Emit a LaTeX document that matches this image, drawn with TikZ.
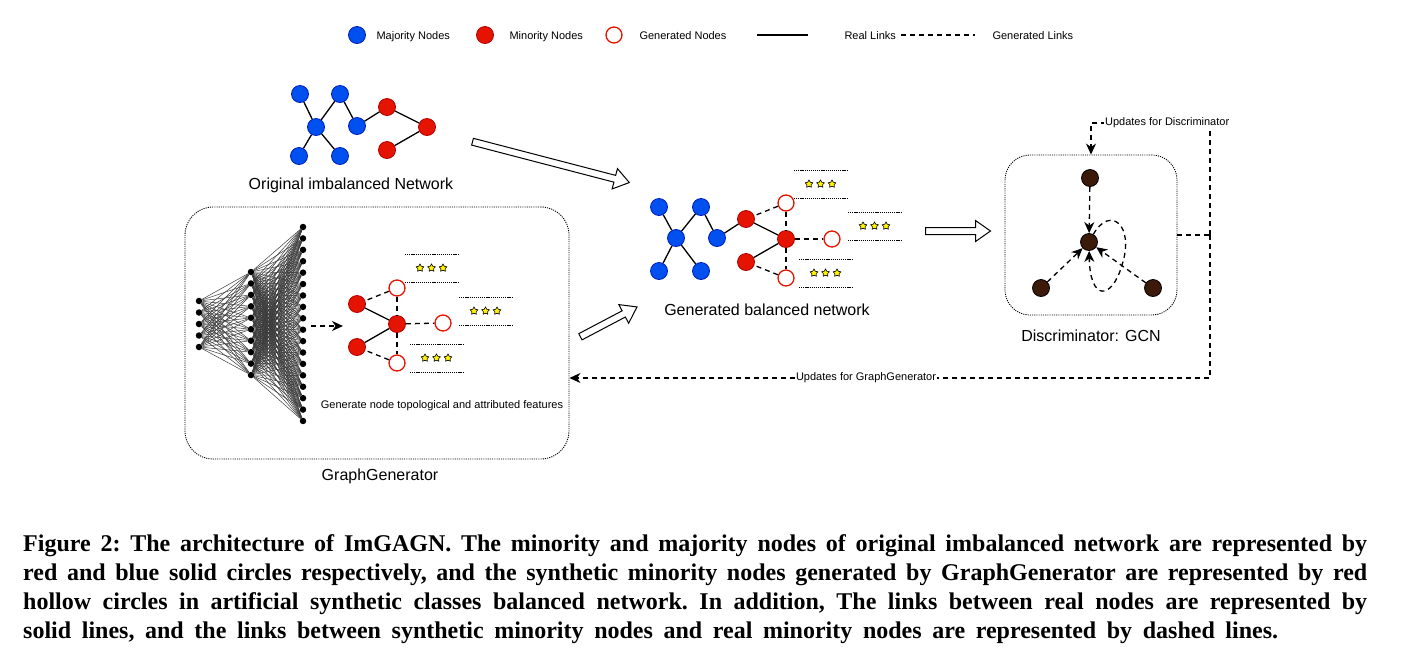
\documentclass[tikz,border=0pt]{standalone}
\usepackage{fontspec}
\setmainfont{Liberation Sans}
\newfontfamily\capfont{Liberation Serif}
\usetikzlibrary{arrows.meta,positioning,shapes.arrows,shapes.geometric}
\definecolor{majblue}{HTML}{0050EF}
\definecolor{majline}{HTML}{001DBC}
\definecolor{minred}{HTML}{E51400}
\definecolor{minline}{HTML}{B20000}
\definecolor{gcnbrown}{HTML}{3B1A0A}
\definecolor{featyellow}{HTML}{FFF200}
\definecolor{nngray}{HTML}{3A3A3A}

\begin{document}
\begin{tikzpicture}[x=1pt,y=-1pt,
   maj/.style={circle,fill=majblue,draw=majline,line width=0.8pt,minimum size=17pt,inner sep=0pt},
   mino/.style={circle,fill=minred,draw=minline,line width=0.8pt,minimum size=17pt,inner sep=0pt},
   gen/.style={circle,fill=white,draw=minred,line width=1.3pt,minimum size=16pt,inner sep=0pt},
   gcn/.style={circle,fill=gcnbrown,draw=black,line width=0.8pt,minimum size=17pt,inner sep=0pt},
   neuron/.style={circle,fill=black,minimum size=6.5pt,inner sep=0pt},
   nnlink/.style={draw=nngray,line width=0.5pt},
   real/.style={line width=1.3pt},
   fake/.style={line width=1.3pt,dash pattern=on 5pt off 4pt},
   upd/.style={line width=1.3pt,dash pattern=on 5pt off 4pt,-{Stealth[length=11pt,width=10pt,inset=3.5pt]}},
   feat/.style={line width=1pt,dash pattern=on 1.2pt off 0.9pt},
   featstar/.style={star,star points=5,star point ratio=1.8,fill=featyellow,draw=black,line width=0.6pt,minimum size=8pt,inner sep=0pt},
   dotbox/.style={draw,line width=0.9pt,dash pattern=on 1.1pt off 1.1pt},
   bigarrow/.style={single arrow,draw,fill=white,line width=1pt,inner xsep=0pt,inner ysep=3pt,
      single arrow head extend=7pt,single arrow tip angle=70},
   lbl/.style={font=\fontsize{16}{19}\selectfont},
   lgtext/.style={font=\fontsize{11}{13}\selectfont},
   captext/.style={anchor=base west,inner sep=0pt,font=\capfont\bfseries\frenchspacing\fontsize{24}{29}\selectfont}]
   \useasboundingbox (0,0) rectangle (1401,649);

   % legend
   \node[maj] (lgMaj) at (357,35) {};
   \node[lgtext,anchor=base west] (lgMajT) at (373,39) {Majority Nodes};
   \node[mino] (lgMin) at (485,35) {};
   \node[lgtext,anchor=base west] (lgMinT) at (506,39) {Minority Nodes};
   \node[gen] (lgGen) at (614,35) {};
   \node[lgtext,anchor=base west] (lgGenT) at (636,39) {Generated Nodes};
   \coordinate (lgR1) at (757,35);
   \coordinate (lgR2) at (808,35);
   \draw[real] (lgR1) -- (lgR2);
   \node[lgtext,anchor=base west] (lgRT) at (841,39) {Real Links};
   \coordinate (lgF1) at (901,35);
   \coordinate (lgF2) at (975,35);
   \draw[fake] (lgF1) -- (lgF2);
   \node[lgtext,anchor=base west] (lgFT) at (989,39) {Generated Links};

   % original network
   \node[maj] (oB1) at (300,94) {};
   \node[maj] (oB2) at (340,94) {};
   \node[maj] (oB3) at (316,127) {};
   \node[maj] (oB4) at (357,126) {};
   \node[maj] (oB5) at (299,156) {};
   \node[maj] (oB6) at (340,156) {};
   \node[mino] (oR1) at (387,107) {};
   \node[mino] (oR2) at (427,127) {};
   \node[mino] (oR3) at (387,150) {};
   \path[real]
     (oB3) edge (oB1) edge (oB2) edge (oB5) edge (oB6)
     (oB2) edge (oB4)
     (oR1) edge (oB4) edge (oR2)
     (oR2) edge (oR3);
   \node[lbl] (oLbl) at (351,185) {Original imbalanced Network};

   % GraphGenerator
   \node[dotbox,rounded corners=28pt,minimum width=384pt,minimum height=252pt] (genbox) at (377,333) {};
   \node[lbl] (genLbl) at (380,476) {GraphGenerator};
   \foreach \i in {0,...,4}
     \node[neuron] (a\i) at (199,{301+11.5*\i}) {};
   \foreach \i in {0,...,9}
     \node[neuron] (b\i) at (251,{272+11.45*\i}) {};
   \foreach \i in {0,...,17}
     \node[neuron] (c\i) at (303,{227+11.41*\i}) {};
   \foreach \i in {0,...,4}
     \foreach \j in {0,...,9}
       \draw[nnlink] (a\i) -- (b\j);
   \foreach \i in {0,...,9}
     \foreach \j in {0,...,17}
       \draw[nnlink] (b\i) -- (c\j);
   \coordinate (nnOut) at (311,326);
   \coordinate (gIn) at (343,326);
   \draw[upd] (nnOut) -- (gIn);
   \node[mino] (gR1) at (357,304) {};
   \node[mino] (gR2) at (397,324) {};
   \node[mino] (gR3) at (357,347) {};
   \node[gen] (gH1) at (397,288) {};
   \node[gen] (gH2) at (443,323) {};
   \node[gen] (gH3) at (397,363) {};
   \path[real] (gR2) edge (gR1) edge (gR3);
   \path[fake]
     (gH1) edge (gR1) edge (gR2)
     (gR2) edge (gH2) edge (gH3)
     (gH3) edge (gR3);
   \node[lgtext] (genTxt) at (442,406) {Generate node topological and attributed features};

   % feature bars
   \foreach \fx/\fy [count=\k] in {405/254,459/297,410/344,794/170,848/212,799/259} {
     \draw[feat] (\fx,\fy) -- ++(53,0);
     \draw[feat] (\fx,\fy+28) -- ++(53,0);
     \foreach \s [count=\m] in {-1,0,1}
       \node[featstar] (st\k\m) at (\fx+26.5+\s*11.5,\fy+14) {};
   }

   % generated balanced network
   \node[maj] (bB1) at (659,207) {};
   \node[maj] (bB2) at (701,207) {};
   \node[maj] (bB3) at (676,238) {};
   \node[maj] (bB4) at (717,238) {};
   \node[maj] (bB5) at (659,271) {};
   \node[maj] (bB6) at (701,271) {};
   \node[mino] (bR1) at (746,219) {};
   \node[mino] (bR2) at (786,239) {};
   \node[mino] (bR3) at (746,262) {};
   \node[gen] (bH1) at (786,203) {};
   \node[gen] (bH2) at (832,239) {};
   \node[gen] (bH3) at (786,278) {};
   \path[real]
     (bB3) edge (bB1) edge (bB2) edge (bB5) edge (bB6)
     (bB2) edge (bB4)
     (bR1) edge (bB4) edge (bR2)
     (bR2) edge (bR3);
   \path[fake]
     (bH1) edge (bR1) edge (bR2)
     (bR2) edge (bH2) edge (bH3)
     (bH3) edge (bR3);
   \node[lbl] (bLbl) at (767,310) {Generated balanced network};

   % hollow flow arrows
   \node[bigarrow,minimum height=162pt,rotate=-14.6] (flowA) at (548.5,161.5) {};
   \node[bigarrow,minimum height=64pt,rotate=27.8] (flowB) at (606.5,323) {};
   \node[bigarrow,minimum height=65pt] (flowC) at (955.5,231) {};

   % discriminator
   \node[dotbox,rounded corners=25pt,minimum width=172pt,minimum height=160pt] (disc) at (1091,235) {};
   \node[lbl] (discLbl) at (1091,336) {Discriminator: GCN};
   \node[gcn] (dT) at (1090,178) {};
   \node[gcn] (dC) at (1089,242) {};
   \node[gcn] (dL) at (1041,288) {};
   \node[gcn] (dR) at (1153,288) {};
   \path[upd] (dT) edge (dC) (dL) edge (dC) (dR) edge (dC);
   \draw[upd] (dC) .. controls (1110,205) and (1135,225) .. (1122,265)
                   .. controls (1112,300) and (1090,302) .. (dC);

   % update paths
   \coordinate (split) at (1210,235);
   \coordinate (dTop) at (1091,123);
   \coordinate (lowLine) at (1210,378);
   \draw[fake] (disc.east) -- (split);
   \draw[upd] (split) |- node[pos=0.68,fill=white,inner sep=1pt,lgtext] {Updates for Discriminator} (dTop) -- (disc.north);
   \draw[upd] (split) -- (lowLine) -- node[pos=0.537,fill=white,inner sep=1pt,lgtext] {Updates for GraphGenerator} (lowLine -| genbox.east);

   % caption
   \node[captext] (cap1) at (23,551) {\hbox to 1344pt{Figure 2: The architecture of ImGAGN. The minority and majority nodes of original imbalanced network are represented by}};
   \node[captext] (cap2) at (23,580) {\hbox to 1344pt{red and blue solid circles respectively, and the synthetic minority nodes generated by GraphGenerator are represented by red}};
   \node[captext] (cap3) at (23,609) {\hbox to 1344pt{hollow circles in artificial synthetic classes balanced network. In addition, The links between real nodes are represented by}};
   \node[captext] (cap4) at (23,638) {\hbox to 1255pt{solid lines, and the links between synthetic minority nodes and real minority nodes are represented by dashed lines.}};
\end{tikzpicture}
\end{document}
